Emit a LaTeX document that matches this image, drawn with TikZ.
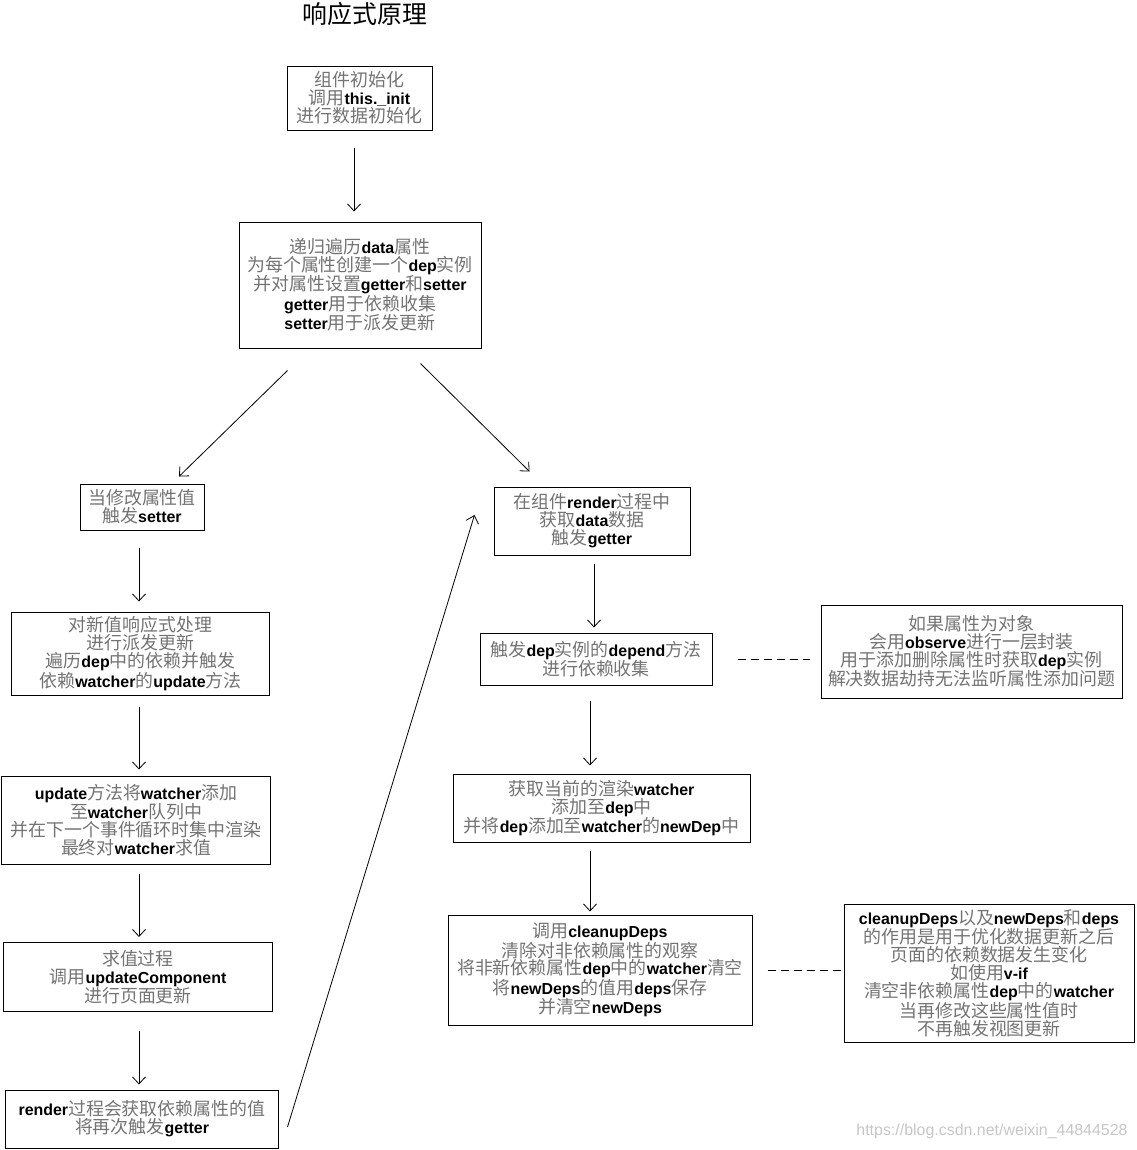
\documentclass[tikz,border=0pt]{standalone}
\usepackage{fontspec}
\setmainfont{Liberation Sans}
\newfontfamily\cjk{Noto Sans CJK SC}
\usetikzlibrary{arrows.meta}
\definecolor{cjkgray}{gray}{0.45}
\newcommand{\en}[1]{{\rmfamily\bfseries\fontsize{16}{18}\selectfont\color{black}#1}}
\tikzset{
  box/.style={draw, line width=1bp, inner sep=0pt, align=center, text=cjkgray,
    font=\cjk\fontsize{18}{18}\selectfont},
  arr/.style={-{Straight Barb[length=7bp,width=13bp]}, line width=0.8bp},
  dashline/.style={dash pattern=on 8bp off 5bp, line width=1bp}
}
\begin{document}
\begin{tikzpicture}[x=1bp,y=-1bp]
      \useasboundingbox (0,0) rectangle (1137,1150);
      \node[font=\cjk\fontsize{25}{25}\selectfont] (title) at (365,14) {响应式原理};
      % left column
      \node[box, minimum width=145bp, minimum height=64bp] (init) at (359.5,98) {组件初始化\\调用\en{this.\_init}\\进行数据初始化};
      \node[box, minimum width=242bp, minimum height=126bp] (walk) at (360,285) {递归遍历\en{data}属性\\为每个属性创建一个\en{dep}实例\\并对属性设置\en{getter}和\en{setter}\\\en{getter}用于依赖收集\\\en{setter}用于派发更新};
      \node[box, minimum width=124bp, minimum height=46bp] (setter) at (142,507) {当修改属性值\\触发\en{setter}};
      \node[box, minimum width=257bp, minimum height=83bp] (notify) at (140.5,653.5) {对新值响应式处理\\进行派发更新\\遍历\en{dep}中的依赖并触发\\依赖\en{watcher}的\en{update}方法};
      \node[box, minimum width=268bp, minimum height=88bp] (update) at (136,820) {\en{update}方法将\en{watcher}添加\\至\en{watcher}队列中\\并在下一个事件循环时集中渲染\\最终对\en{watcher}求值};
      \node[box, minimum width=268bp, minimum height=69bp] (evaluate) at (138,977) {求值过程\\调用\en{updateComponent}\\进行页面更新};
      \node[box, minimum width=272bp, minimum height=58bp] (rerender) at (142,1119) {\en{render}过程会获取依赖属性的值\\将再次触发\en{getter}};
      % right column
      \node[box, minimum width=196bp, minimum height=68bp] (render) at (592,521) {在组件\en{render}过程中\\获取\en{data}数据\\触发\en{getter}};
      \node[box, minimum width=232bp, minimum height=52bp] (depend) at (596,659) {触发\en{dep}实例的\en{depend}方法\\进行依赖收集};
      \node[box, minimum width=301bp, minimum height=93bp] (observe) at (971.5,651.5) {如果属性为对象\\会用\en{observe}进行一层封装\\用于添加删除属性时获取\en{dep}实例\\解决数据劫持无法监听属性添加问题};
      \node[box, minimum width=297bp, minimum height=68bp] (collect) at (601.5,808) {获取当前的渲染\en{watcher}\\添加至\en{dep}中\\并将\en{dep}添加至\en{watcher}的\en{newDep}中};
      \node[box, minimum width=304bp, minimum height=110bp] (cleanup) at (600,970) {调用\en{cleanupDeps}\\清除对非依赖属性的观察\\将非新依赖属性\en{dep}中的\en{watcher}清空\\将\en{newDeps}的值用\en{deps}保存\\并清空\en{newDeps}};
      \node[box, minimum width=290bp, minimum height=138bp] (note) at (989,973) {\en{cleanupDeps}以及\en{newDeps}和\en{deps}\\的作用是用于优化数据更新之后\\页面的依赖数据发生变化\\如使用\en{v-if}\\清空非依赖属性\en{dep}中的\en{watcher}\\当再修改这些属性值时\\不再触发视图更新};
      \node[text=gray!45, font=\fontsize{16}{16}\selectfont] (mark) at (992,1131) {https://blog.csdn.net/weixin\_44844528};
      % arrows
      \coordinate (ca) at (354,0);
      \coordinate (cb) at (139,0);
      \coordinate (cc) at (594,0);
      \coordinate (cd) at (590,0);
      \draw[arr, shorten <=17bp, shorten >=10bp] (init.south -| ca) -- (walk.north -| ca);
      \draw[arr] ([shift={(49,22)}]walk.south west) -- ([shift={(37,-7)}]setter.north);
      \draw[arr] ([shift={(-61,15)}]walk.south east) -- ([shift={(36,-15)}]render.north west);
      \draw[arr, shorten <=17bp, shorten >=10bp] (setter.south -| cb) -- (notify.north -| cb);
      \draw[arr, shorten <=11bp, shorten >=6bp] (notify.south -| cb) -- (update.north -| cb);
      \draw[arr, shorten <=9bp, shorten >=5bp] (update.south -| cb) -- (evaluate.north -| cb);
      \draw[arr, shorten <=19bp, shorten >=5bp] (evaluate.south -| cb) -- (rerender.north -| cb);
      \draw[arr] ([shift={(9,8)}]rerender.east) -- ([shift={(-19,-6)}]render.west);
      \draw[arr, shorten <=8bp, shorten >=5bp] (render.south -| cc) -- (depend.north -| cc);
      \draw[arr, shorten <=15bp, shorten >=8bp] (depend.south -| cd) -- (collect.north -| cd);
      \draw[arr, shorten <=8bp, shorten >=3bp] (collect.south -| cd) -- (cleanup.north -| cd);
      \draw[dashline, shorten <=25bp, shorten >=11bp] (depend.east) -- (observe.west |- depend.east);
      \draw[dashline, shorten <=15bp, shorten >=3bp] (cleanup.east) -- (note.west |- cleanup.east);
\end{tikzpicture}
\end{document}
